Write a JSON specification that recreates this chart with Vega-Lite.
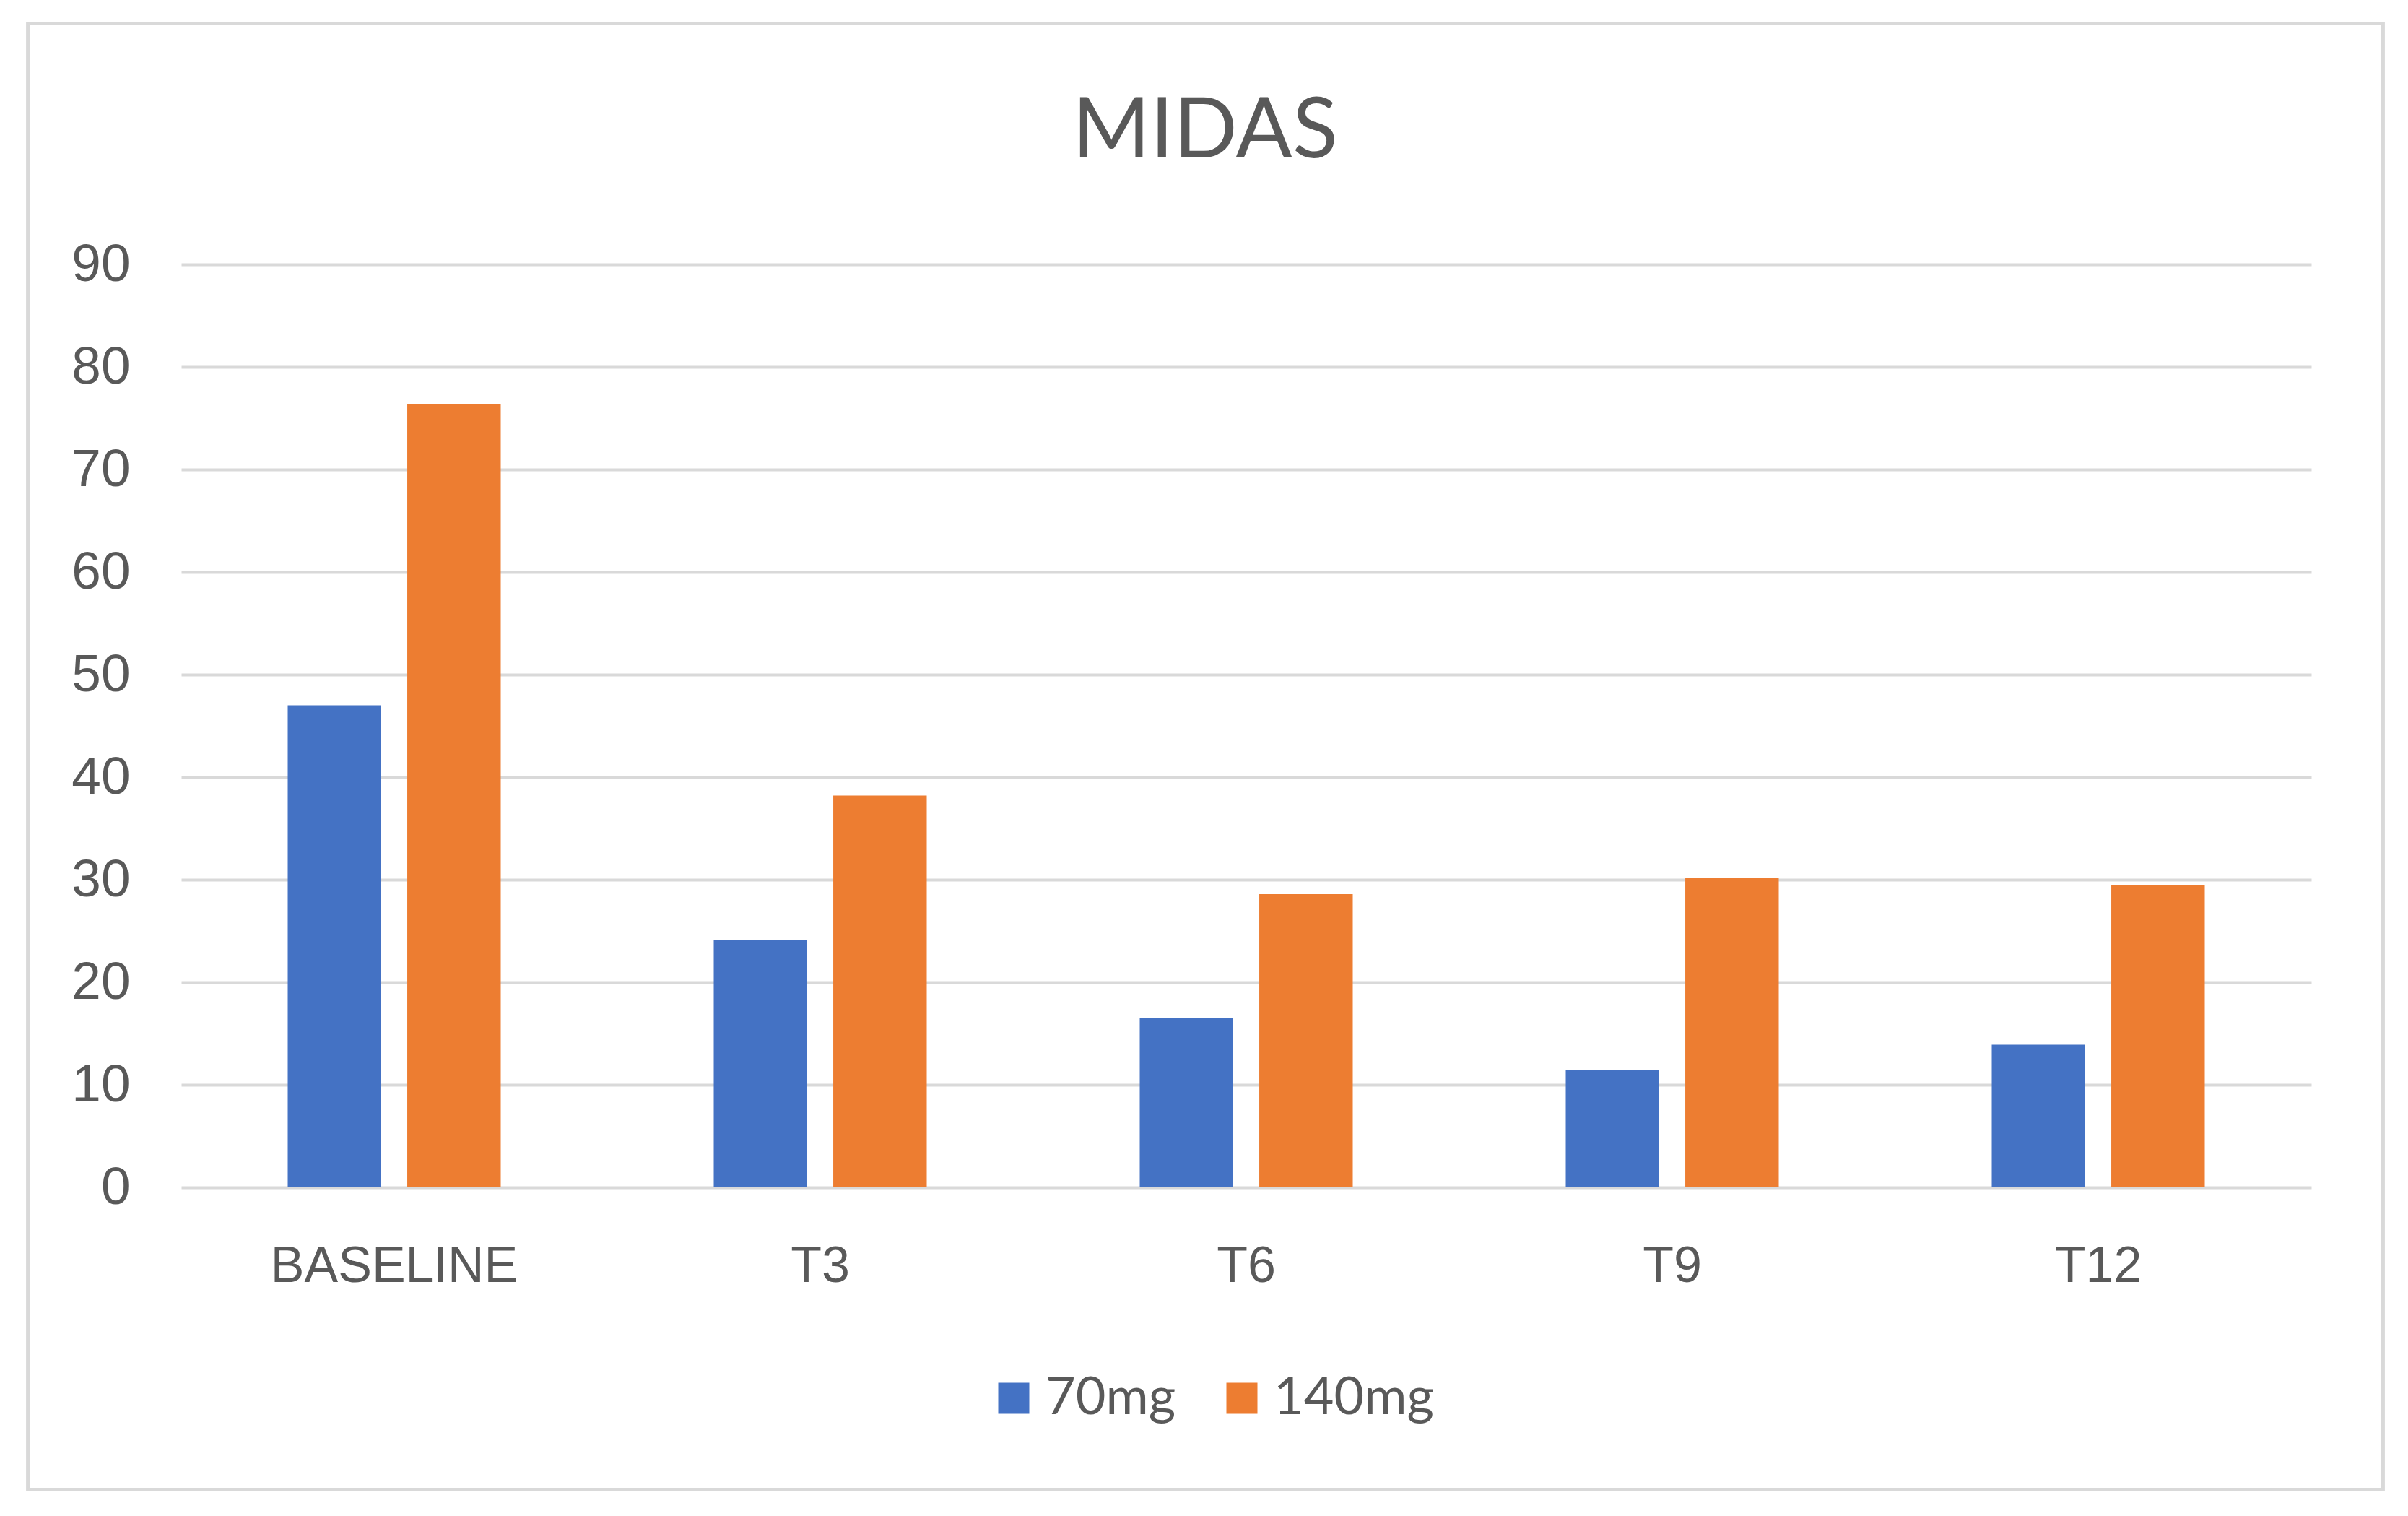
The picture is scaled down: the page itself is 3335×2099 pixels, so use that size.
{
  "$schema": "https://vega.github.io/schema/vega-lite/v6.json",
  "width": 2950,
  "height": 1278,
  "autosize": {"type": "none"},
  "padding": {"left": 251, "top": 366, "right": 134, "bottom": 455},
  "background": "white",
  "title": {"text": "MIDAS", "fontSize": 116, "font": "Lato", "fontWeight": "normal", "color": "#595959", "anchor": "middle", "frame": "group", "dx": -57, "baseline": "alphabetic", "offset": -304},
  "config": {"view": {"stroke": null}},
  "layer": [
    {
      "data": {"values": [{}]},
      "mark": {"type": "rect", "fill": "transparent", "stroke": "#d9d9d9", "strokeWidth": 5, "clip": false},
      "encoding": {
        "x": {"datum": -0.072, "type": "quantitative", "scale": {"domain": [0, 1], "nice": false, "zero": false}, "axis": null},
        "x2": {"datum": 1.0337},
        "y": {"datum": -0.3275, "type": "quantitative", "scale": {"domain": [0, 1], "nice": false, "zero": false}, "axis": null},
        "y2": {"datum": 1.261}
      }
    },
    {
      "data": {"values": [
        {"time": "BASELINE", "dose": "70mg", "value": 47.0},
        {"time": "BASELINE", "dose": "140mg", "value": 76.4},
        {"time": "T3", "dose": "70mg", "value": 24.1},
        {"time": "T3", "dose": "140mg", "value": 38.2},
        {"time": "T6", "dose": "70mg", "value": 16.5},
        {"time": "T6", "dose": "140mg", "value": 28.6},
        {"time": "T9", "dose": "70mg", "value": 11.4},
        {"time": "T9", "dose": "140mg", "value": 30.2},
        {"time": "T12", "dose": "70mg", "value": 13.9},
        {"time": "T12", "dose": "140mg", "value": 29.5}
      ]},
      "mark": {"type": "bar"},
      "encoding": {
        "x": {"field": "time", "type": "nominal", "sort": ["BASELINE", "T3", "T6", "T9", "T12"],
          "scale": {"paddingInner": 0.5, "paddingOuter": 0.25},
          "axis": {"title": null, "labelAngle": 0, "labelFont": "Liberation Sans", "labelFontSize": 70, "labelColor": "#595959", "labelPadding": 75, "labelLimit": 0, "ticks": false, "domain": false}},
        "xOffset": {"field": "dose", "type": "nominal", "sort": ["70mg", "140mg"], "scale": {"paddingInner": 0.218}},
        "y": {"field": "value", "type": "quantitative", "scale": {"domain": [0, 90], "nice": false},
          "axis": {"title": null, "values": [0, 10, 20, 30, 40, 50, 60, 70, 80, 90], "grid": true, "gridColor": "#d9d9d9", "gridWidth": 4, "domain": false, "ticks": false, "labelFont": "Liberation Sans", "labelFontSize": 73, "labelColor": "#595959", "labelPadding": 71}},
        "color": {"field": "dose", "type": "nominal", "sort": ["70mg", "140mg"],
          "scale": {"domain": ["70mg", "140mg"], "range": ["#4472C4", "#ED7D31"]},
          "legend": {"title": null, "orient": "none", "legendX": 1117, "legendY": 1534, "direction": "horizontal", "symbolType": "square", "symbolSize": 1849, "symbolStrokeWidth": 0, "labelFont": "Lato", "labelFontSize": 72, "labelColor": "#595959", "labelOffset": 8, "labelLimit": 0, "columnPadding": 55}}
      }
    }
  ],
  "resolve": {"scale": {"x": "independent", "y": "independent"}}
}
